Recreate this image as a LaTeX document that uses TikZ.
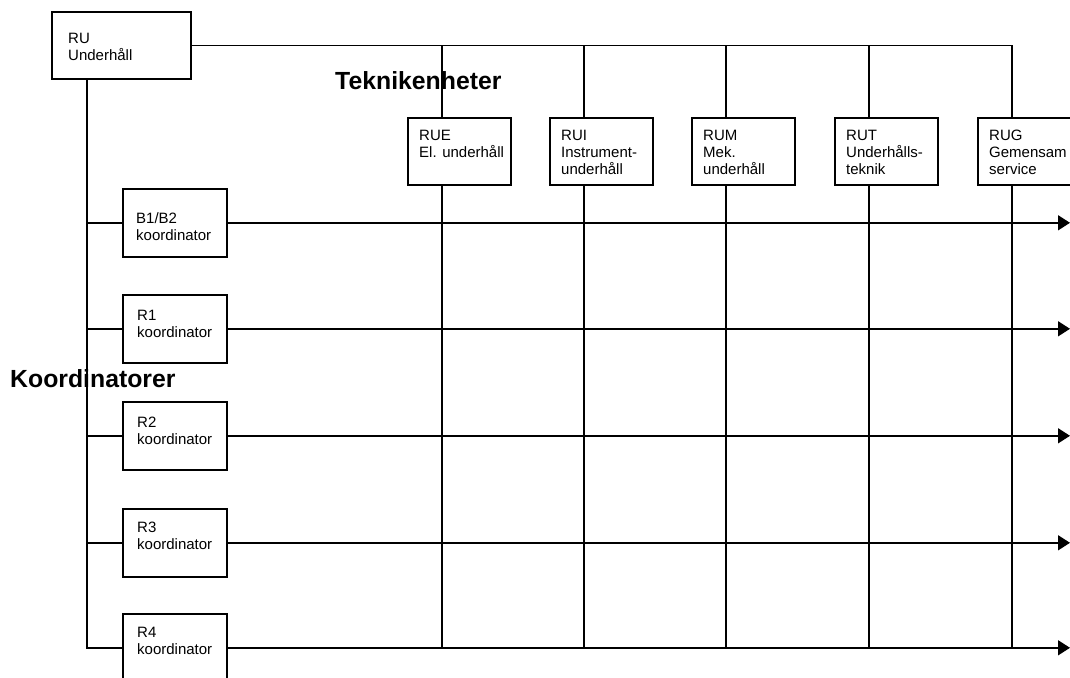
\documentclass[tikz,border=0pt]{standalone}
\usepackage{fontspec}
\setmainfont{Liberation Sans}
\usetikzlibrary{arrows.meta}
\begin{document}
\begin{tikzpicture}[x=1pt,y=-1pt,
  box/.style={draw, line width=1.6pt, inner sep=0pt, anchor=north west,
              minimum width=103pt, minimum height=67pt},
  coordbox/.style={box, minimum width=104pt, minimum height=68pt},
  txt/.style={anchor=north west, inner sep=0pt, align=left,
              font=\fontsize{15}{17}\selectfont},
  heading/.style={anchor=base west, inner sep=0pt,
                  font=\fontsize{24.8}{28}\selectfont\bfseries},
  conn/.style={line width=1.5pt},
  flow/.style={conn, -{Triangle[length=12pt,width=15pt]}}
]
\useasboundingbox (0,0) rectangle (1070,677);

% head unit
\node[box, minimum width=139pt] (RU) at (51,11) {};
\node[txt] (RUt) at ([shift={(17,22)}]RU.north west) {RU\\Underhåll};

% technical units
\node[box] (RUE) at (407,117) {};
\node[box] (RUI) at (549,117) {};
\node[box] (RUM) at (691,117) {};
\node[box] (RUT) at (834,117) {};
\node[box] (RUG) at (977,117) {};
\node[txt] (RUEt) at ([shift={(12,13)}]RUE.north west) {RUE\\El. underhåll};
\node[txt] (RUIt) at ([shift={(12,13)}]RUI.north west) {RUI\\Instrument-\\underhåll};
\node[txt] (RUMt) at ([shift={(12,13)}]RUM.north west) {RUM\\Mek.\\underhåll};
\node[txt] (RUTt) at ([shift={(12,13)}]RUT.north west) {RUT\\Underhålls-\\teknik};
\node[txt] (RUGt) at ([shift={(12,13)}]RUG.north west) {RUG\\Gemensam\\service};

% coordinators
\node[coordbox] (B1) at (122,188) {};
\node[coordbox] (R1) at (122,294) {};
\node[coordbox] (R2) at (122,401) {};
\node[coordbox] (R3) at (122,508) {};
\node[coordbox] (R4) at (122,613) {};
\node[txt] (B1t) at ([shift={(14,24)}]B1.north west) {B1/B2\\koordinator};
\node[txt] (R1t) at ([shift={(15,16)}]R1.north west) {R1\\koordinator};
\node[txt] (R2t) at ([shift={(15,16)}]R2.north west) {R2\\koordinator};
\node[txt] (R3t) at ([shift={(15,14)}]R3.north west) {R3\\koordinator};
\node[txt] (R4t) at ([shift={(15,14)}]R4.north west) {R4\\koordinator};

% headings
\node[heading] (tech) at (335,89) {Teknikenheter};
\node[heading] (koord) at (10,387) {Koordinatorer};

% reference points
\coordinate (rail) at (1070,0);
\coordinate (bot) at (0,649);
\coordinate (sp) at ([xshift=36pt]RU.south west);
\foreach \u in {RUE,RUI,RUM,RUT,RUG}
  \coordinate (c\u) at ([xshift=35pt]\u.north west);

% top rail to the technical units
\draw[conn] (RU.east) -| (cRUG);
\foreach \u in {RUE,RUI,RUM,RUT}
  \draw[conn] (c\u) -- (c\u |- RU.east);

% technical columns
\foreach \u in {RUE,RUI,RUM,RUT,RUG}
  \draw[conn] (c\u |- \u.south) -- (c\u |- bot);

% left spine to the coordinators
\draw[conn] (sp) |- (R4.west);
\foreach \r in {B1,R1,R2,R3}
  \draw[conn] (sp |- \r.west) -- (\r.west);

% coordinator rows
\foreach \r in {B1,R1,R2,R3,R4}
  \draw[flow] (\r.east) -- (\r.east -| rail);
\end{tikzpicture}
\end{document}
